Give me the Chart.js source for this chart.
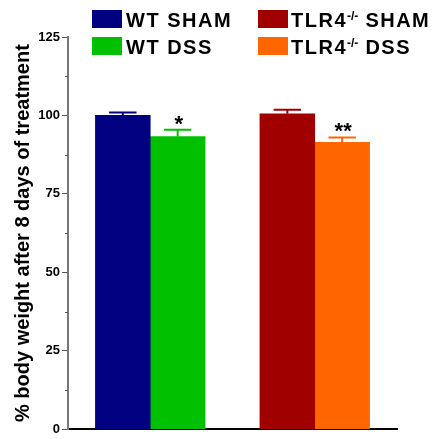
<!DOCTYPE html>
<html>
<head>
<meta charset="utf-8">
<script src="https://cdn.jsdelivr.net/npm/chart.js@4.4.1/dist/chart.umd.min.js"></script>
<style>
    html, body { margin: 0; padding: 0; background: #fff; }
    #wrap { position: relative; width: 436px; height: 439px; }
    #legend { position: absolute; left: 0; top: 0; font-family: "Liberation Sans", Arial, sans-serif; font-weight: bold; font-size: 20px; color: #000; }
    .item { position: absolute; white-space: nowrap; line-height: 20px; letter-spacing: 1.5px; }
    .item .box { position: absolute; top: 0; width: 30px; height: 18px; }
    .item .lbl { position: absolute; top: 0; }
    .item sup { font-size: 12px; line-height: 0; vertical-align: 7px; letter-spacing: 0; }
</style>
</head>
<body>
<div id="wrap">
    <canvas id="weightChart" width="436" height="439"></canvas>
    <div id="legend"></div>
</div>
<script>
(function() {
    'use strict';

    // Groups sit on slots 1,2 and 4,5 of a 0..6 axis, slot 3 is the gap
    var slots = ['', 'WT SHAM', 'WT DSS', '', 'TLR4 SHAM', 'TLR4 DSS', ''];
    var groupNames = ['WT SHAM', 'WT DSS', 'TLR4<sup>-/-</sup> SHAM', 'TLR4<sup>-/-</sup> DSS'];
    var groupSlots = [1, 2, 4, 5];
    var means = [100.0, 93.3, 100.5, 91.4];
    var errors = [0.9, 2.1, 1.3, 1.6];
    var stars = ['', '*', '', '**'];
    var colors = ['#000080', '#00c000', '#a00000', '#ff6600'];
    var yTicks = [0, 25, 50, 75, 100, 125];

    var datasets = groupNames.map(function(name, i) {
        var data = slots.map(function() { return null; });
        data[groupSlots[i]] = means[i];
        return {
            label: name,
            data: data,
            backgroundColor: colors[i],
            borderWidth: 0,
            barPercentage: 1,
            categoryPercentage: 1,
            grouped: false,
            errorBar: errors[i],
            star: stars[i]
        };
    });

    // Upper SEM bars, minor y ticks and significance marks
    var extras = {
        id: 'extras',
        afterDatasetsDraw: function(chart) {
            var ctx = chart.ctx;
            var y = chart.scales.y;
            ctx.save();
            chart.data.datasets.forEach(function(ds, i) {
                var bar = chart.getDatasetMeta(i).data[groupSlots[i]];
                var top = y.getPixelForValue(means[i]);
                var cap = y.getPixelForValue(means[i] + ds.errorBar);
                var half = bar.width / 4;
                ctx.strokeStyle = colors[i];
                ctx.lineWidth = 2;
                ctx.beginPath();
                ctx.moveTo(bar.x, top);
                ctx.lineTo(bar.x, cap);
                ctx.moveTo(bar.x - half, cap);
                ctx.lineTo(bar.x + half, cap);
                ctx.stroke();
                if (ds.star) {
                    ctx.fillStyle = '#000';
                    ctx.font = 'bold 22px "Liberation Sans", Arial, sans-serif';
                    ctx.textAlign = 'center';
                    ctx.textBaseline = 'alphabetic';
                    ctx.fillText(ds.star, bar.x + 1, cap + 1);
                }
            });
            // minor ticks between the labelled ones
            ctx.strokeStyle = '#555';
            ctx.lineWidth = 1;
            var ax = chart.chartArea.left;
            for (var v = 12.5; v < 125; v += 25) {
                var py = Math.round(y.getPixelForValue(v)) + 0.5;
                ctx.beginPath();
                ctx.moveTo(ax - 3, py);
                ctx.lineTo(ax, py);
                ctx.stroke();
            }
            ctx.restore();
        }
    };

    new Chart(document.getElementById('weightChart'), {
        type: 'bar',
        data: { labels: slots, datasets: datasets },
        plugins: [extras],
        options: {
            responsive: false,
            animation: false,
            layout: { padding: { left: 4, top: 37, right: 39, bottom: 7 } },
            plugins: {
                legend: { display: false },
                tooltip: { enabled: false }
            },
            scales: {
                x: {
                    offset: false,
                    grid: { display: false, drawTicks: false },
                    ticks: { display: false },
                    border: { display: true, color: '#000', width: 2 },
                    afterFit: function(scale) { scale.height = 2; }
                },
                y: {
                    min: 0,
                    max: 125,
                    afterBuildTicks: function(scale) {
                        scale.ticks = yTicks.map(function(v) { return { value: v }; });
                    },
                    grid: { drawOnChartArea: false, tickLength: 6, color: '#555', tickColor: '#555' },
                    border: { display: true, color: '#777', width: 2 },
                    ticks: {
                        color: '#000',
                        padding: 2,
                        font: { family: '"Liberation Sans", Arial, sans-serif', size: 13, weight: 'bold' }
                    },
                    title: {
                        display: true,
                        text: '% body weight after 8 days of treatment',
                        color: '#000',
                        padding: { top: 7, bottom: 0 },
                        font: { family: '"Liberation Sans", Arial, sans-serif', size: 20, weight: 'bold' }
                    },
                    afterFit: function(scale) { scale.width = 64; }
                }
            }
        }
    });

    // Two-column legend above the plot
    var legendPos = [[92, 10], [92, 37], [258, 10], [258, 37]];
    var legend = document.getElementById('legend');
    groupNames.forEach(function(name, i) {
        var item = document.createElement('div');
        item.className = 'item';
        item.style.left = legendPos[i][0] + 'px';
        item.style.top = legendPos[i][1] + 'px';
        item.innerHTML = '<span class="box" style="left:0;background:' + colors[i] + '"></span>' +
            '<span class="lbl" style="left:' + (i < 2 ? 34 : 33) + 'px">' + name + '</span>';
        legend.appendChild(item);
    });
})();
</script>
</body>
</html>
